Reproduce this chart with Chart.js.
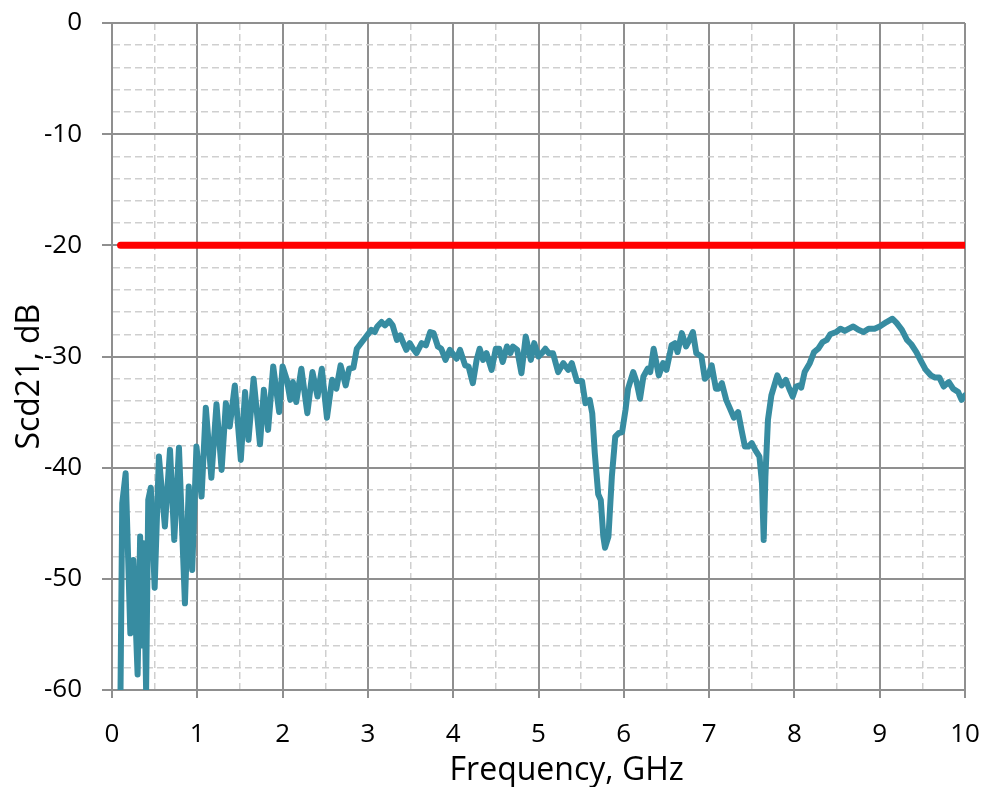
<!DOCTYPE html>
<html lang="en">
<head>
    <meta charset="UTF-8">
    <title>Scd21 vs Frequency</title>
    <script src="https://cdn.jsdelivr.net/npm/chart.js"></script>
    <style>
        html, body { margin: 0; padding: 0; background: #fff; }
        #wrap { position: relative; width: 983px; height: 787px; }
    </style>
</head>
<body>
    <div id="wrap"><canvas id="chart"></canvas></div>

    <script>
        var freqGHz = [
            0.10, 0.12, 0.16, 0.215, 0.25, 0.30, 0.33, 0.345, 0.37, 0.40,
            0.425, 0.455, 0.50, 0.55, 0.62, 0.68, 0.73, 0.785, 0.855, 0.90,
            0.94, 0.99, 1.05, 1.10, 1.165, 1.225, 1.285, 1.335, 1.38, 1.44,
            1.51, 1.56, 1.60, 1.66, 1.735, 1.78, 1.83, 1.89, 1.96, 2.00,
            2.05, 2.09, 2.12, 2.16, 2.22, 2.29, 2.35, 2.41, 2.46, 2.52,
            2.58, 2.63, 2.68, 2.74, 2.78, 2.83, 2.87, 2.93, 2.98, 3.04,
            3.08, 3.11, 3.16, 3.20, 3.25, 3.29, 3.34, 3.38, 3.41, 3.45,
            3.49, 3.53, 3.57, 3.63, 3.68, 3.73, 3.77, 3.82, 3.86, 3.91,
            3.96, 4.01, 4.04, 4.08, 4.14, 4.18, 4.23, 4.275, 4.31, 4.35,
            4.39, 4.45, 4.50, 4.54, 4.58, 4.63, 4.67, 4.70, 4.75, 4.80,
            4.85, 4.91, 4.95, 5.00, 5.04, 5.08, 5.12, 5.17, 5.23, 5.29,
            5.35, 5.39, 5.45, 5.51, 5.55, 5.60, 5.63, 5.66, 5.70, 5.73,
            5.76, 5.78, 5.82, 5.86, 5.90, 5.94, 5.98, 6.02, 6.05, 6.11,
            6.15, 6.19, 6.23, 6.28, 6.31, 6.35, 6.41, 6.46, 6.50, 6.56,
            6.60, 6.63, 6.68, 6.73, 6.77, 6.81, 6.85, 6.91, 6.95, 6.99,
            7.03, 7.08, 7.11, 7.15, 7.20, 7.24, 7.29, 7.34, 7.38, 7.42,
            7.46, 7.50, 7.54, 7.59, 7.62, 7.64, 7.66, 7.69, 7.73, 7.80,
            7.85, 7.90, 7.94, 7.98, 8.02, 8.06, 8.08, 8.12, 8.18, 8.23,
            8.28, 8.33, 8.38, 8.42, 8.49, 8.54, 8.59, 8.64, 8.69, 8.75,
            8.81, 8.87, 8.94, 9.00, 9.08, 9.15, 9.20, 9.26, 9.32, 9.37,
            9.43, 9.49, 9.54, 9.60, 9.65, 9.70, 9.75, 9.81, 9.86, 9.92,
            9.96, 10.00
        ];
        var scd21dB = [
            -60, -43.2, -40.5, -54.9, -48.3, -58.6, -46.2, -56.0, -46.8, -60,
            -42.9, -41.8, -50.8, -39.0, -45.3, -38.4, -46.5, -38.2, -52.2, -41.7,
            -49.2, -38.1, -42.6, -34.6, -40.9, -34.3, -40.2, -34.2, -36.3, -32.6,
            -39.3, -33.2, -37.5, -32.0, -37.9, -33.0, -36.6, -30.9, -35.0, -30.9,
            -32.1, -33.9, -32.3, -34.1, -31.1, -35.1, -31.4, -33.6, -31.1, -35.5,
            -32.1, -32.9, -30.8, -32.6, -31.1, -31.0, -29.3, -28.7, -28.2, -27.6,
            -27.8, -27.3, -26.9, -27.2, -26.8, -27.2, -28.5, -28.1, -28.7, -29.4,
            -28.8, -29.3, -29.7, -28.8, -29.0, -27.8, -27.9, -29.1, -29.3, -30.3,
            -29.4, -29.9, -30.2, -29.4, -30.8, -30.9, -32.4, -30.3, -29.3, -30.3,
            -29.7, -31.2, -29.3, -29.3, -30.5, -29.1, -29.7, -29.1, -29.4, -31.5,
            -28.2, -30.3, -28.8, -30.0, -29.7, -29.3, -29.7, -29.7, -31.4, -30.6,
            -31.2, -30.6, -32.2, -32.2, -34.2, -33.9, -35.1, -38.7, -42.4, -42.9,
            -46.2, -47.2, -46.2, -40.8, -37.2, -36.9, -36.8, -34.8, -32.9, -31.4,
            -32.3, -33.8, -31.8, -31.1, -31.4, -29.3, -31.7, -30.6, -31.2, -29.0,
            -28.8, -29.6, -27.9, -29.1, -28.5, -27.8, -29.7, -30.0, -32.0, -31.7,
            -30.8, -32.9, -32.9, -32.4, -33.9, -34.6, -35.5, -35.0, -36.6, -38.1,
            -38.1, -37.8, -38.4, -39.0, -41.4, -46.5, -40.8, -35.7, -33.5, -31.7,
            -32.6, -32.1, -32.9, -33.6, -32.7, -32.6, -32.8, -31.4, -30.6, -29.6,
            -29.3, -28.7, -28.5, -28.0, -27.8, -27.5, -27.7, -27.5, -27.3, -27.6,
            -27.8, -27.5, -27.5, -27.3, -26.9, -26.6, -27.0, -27.6, -28.5, -28.9,
            -29.6, -30.5, -31.2, -31.7, -31.9, -31.9, -32.7, -32.3, -32.9, -33.2,
            -33.9, -33.5
        ];

        // limit line
        var limitFreqGHz = [0.1, 10];
        var limitDb = [-20, -20];

        var fontFamily = '"Open Sans", "Noto Sans", sans-serif';
        var majorColor = '#8f8f8f';
        var minorColor = '#cfcfcf';

        function isMajorX(ctx) { return ctx.tick && Number.isInteger(ctx.tick.value); }
        function isMajorY(ctx) { return ctx.tick && ctx.tick.value % 10 === 0; }

        function toPoints(xs, ys) {
            return xs.map(function(x, i) { return { x: x, y: ys[i] }; });
        }

        var ctx = document.getElementById('chart').getContext('2d');
        new Chart(ctx, {
            type: 'line',
            data: {
                datasets: [
                    {
                        label: 'Limit',
                        data: toPoints(limitFreqGHz, limitDb),
                        borderColor: '#ff0000',
                        borderWidth: 7,
                        borderCapStyle: 'round',
                        pointRadius: 0,
                        fill: false
                    },
                    {
                        label: 'Scd21',
                        data: toPoints(freqGHz, scd21dB),
                        borderColor: '#378ca1',
                        borderWidth: 6,
                        borderJoinStyle: 'round',
                        borderCapStyle: 'round',
                        pointRadius: 0,
                        tension: 0,
                        fill: false
                    }
                ]
            },
            options: {
                responsive: true,
                maintainAspectRatio: false,
                animation: false,
                layout: { padding: { top: 23, right: 18, bottom: 0, left: 0 } },
                plugins: {
                    legend: { display: false },
                    tooltip: { enabled: false }
                },
                scales: {
                    x: {
                        type: 'linear',
                        min: 0,
                        max: 10,
                        afterFit: function(scale) {
                            // pin the plot box; labels only stick out a little
                            scale.height = 97;
                            scale.paddingLeft = 0;
                            scale.paddingRight = 16;
                        },
                        ticks: {
                            stepSize: 0.5,
                            autoSkip: false,
                            maxRotation: 0,
                            padding: 21,
                            color: '#000',
                            font: { family: fontFamily, size: 26 },
                            callback: function(v) { return Number.isInteger(v) ? String(v) : ''; }
                        },
                        grid: {
                            color: function(c) { return isMajorX(c) ? majorColor : minorColor; },
                            lineWidth: function(c) { return isMajorX(c) ? 2 : 1.5; },
                            tickLength: 8,
                            tickColor: function(c) { return isMajorX(c) ? majorColor : 'rgba(0,0,0,0)'; },
                            tickWidth: 2
                        },
                        border: {
                            color: majorColor,
                            width: 2,
                            dash: function(c) { return (c.tick && !isMajorX(c)) ? [7, 4] : []; }
                        },
                        title: {
                            display: true,
                            // leading spaces nudge the title right, as in the original
                            text: '\u2002\u2002\u2002 Frequency, GHz',
                            color: '#000',
                            font: { family: fontFamily, size: 32, lineHeight: 1 },
                            padding: { top: 0, bottom: 0 }
                        }
                    },
                    y: {
                        type: 'linear',
                        min: -60,
                        max: 0,
                        afterFit: function(scale) {
                            scale.width = 112;
                            scale.paddingTop = 16;
                            scale.paddingBottom = 0;
                        },
                        ticks: {
                            stepSize: 2,
                            autoSkip: false,
                            padding: 20,
                            color: '#000',
                            font: { family: fontFamily, size: 26 },
                            callback: function(v) { return v % 10 === 0 ? String(v) : ''; }
                        },
                        grid: {
                            color: function(c) { return isMajorY(c) ? majorColor : minorColor; },
                            lineWidth: function(c) { return isMajorY(c) ? 2 : 1.5; },
                            tickLength: 10,
                            tickColor: function(c) { return isMajorY(c) ? majorColor : 'rgba(0,0,0,0)'; },
                            tickWidth: 2
                        },
                        border: {
                            color: majorColor,
                            width: 2,
                            dash: function(c) { return (c.tick && !isMajorY(c)) ? [7, 4] : []; }
                        },
                        title: {
                            display: true,
                            text: 'Scd21, dB\u2002\u2002 ',
                            color: '#000',
                            font: { family: fontFamily, size: 32, lineHeight: 1 },
                            padding: { top: 14, bottom: 0 }
                        }
                    }
                }
            }
        });
    </script>
</body>
</html>
